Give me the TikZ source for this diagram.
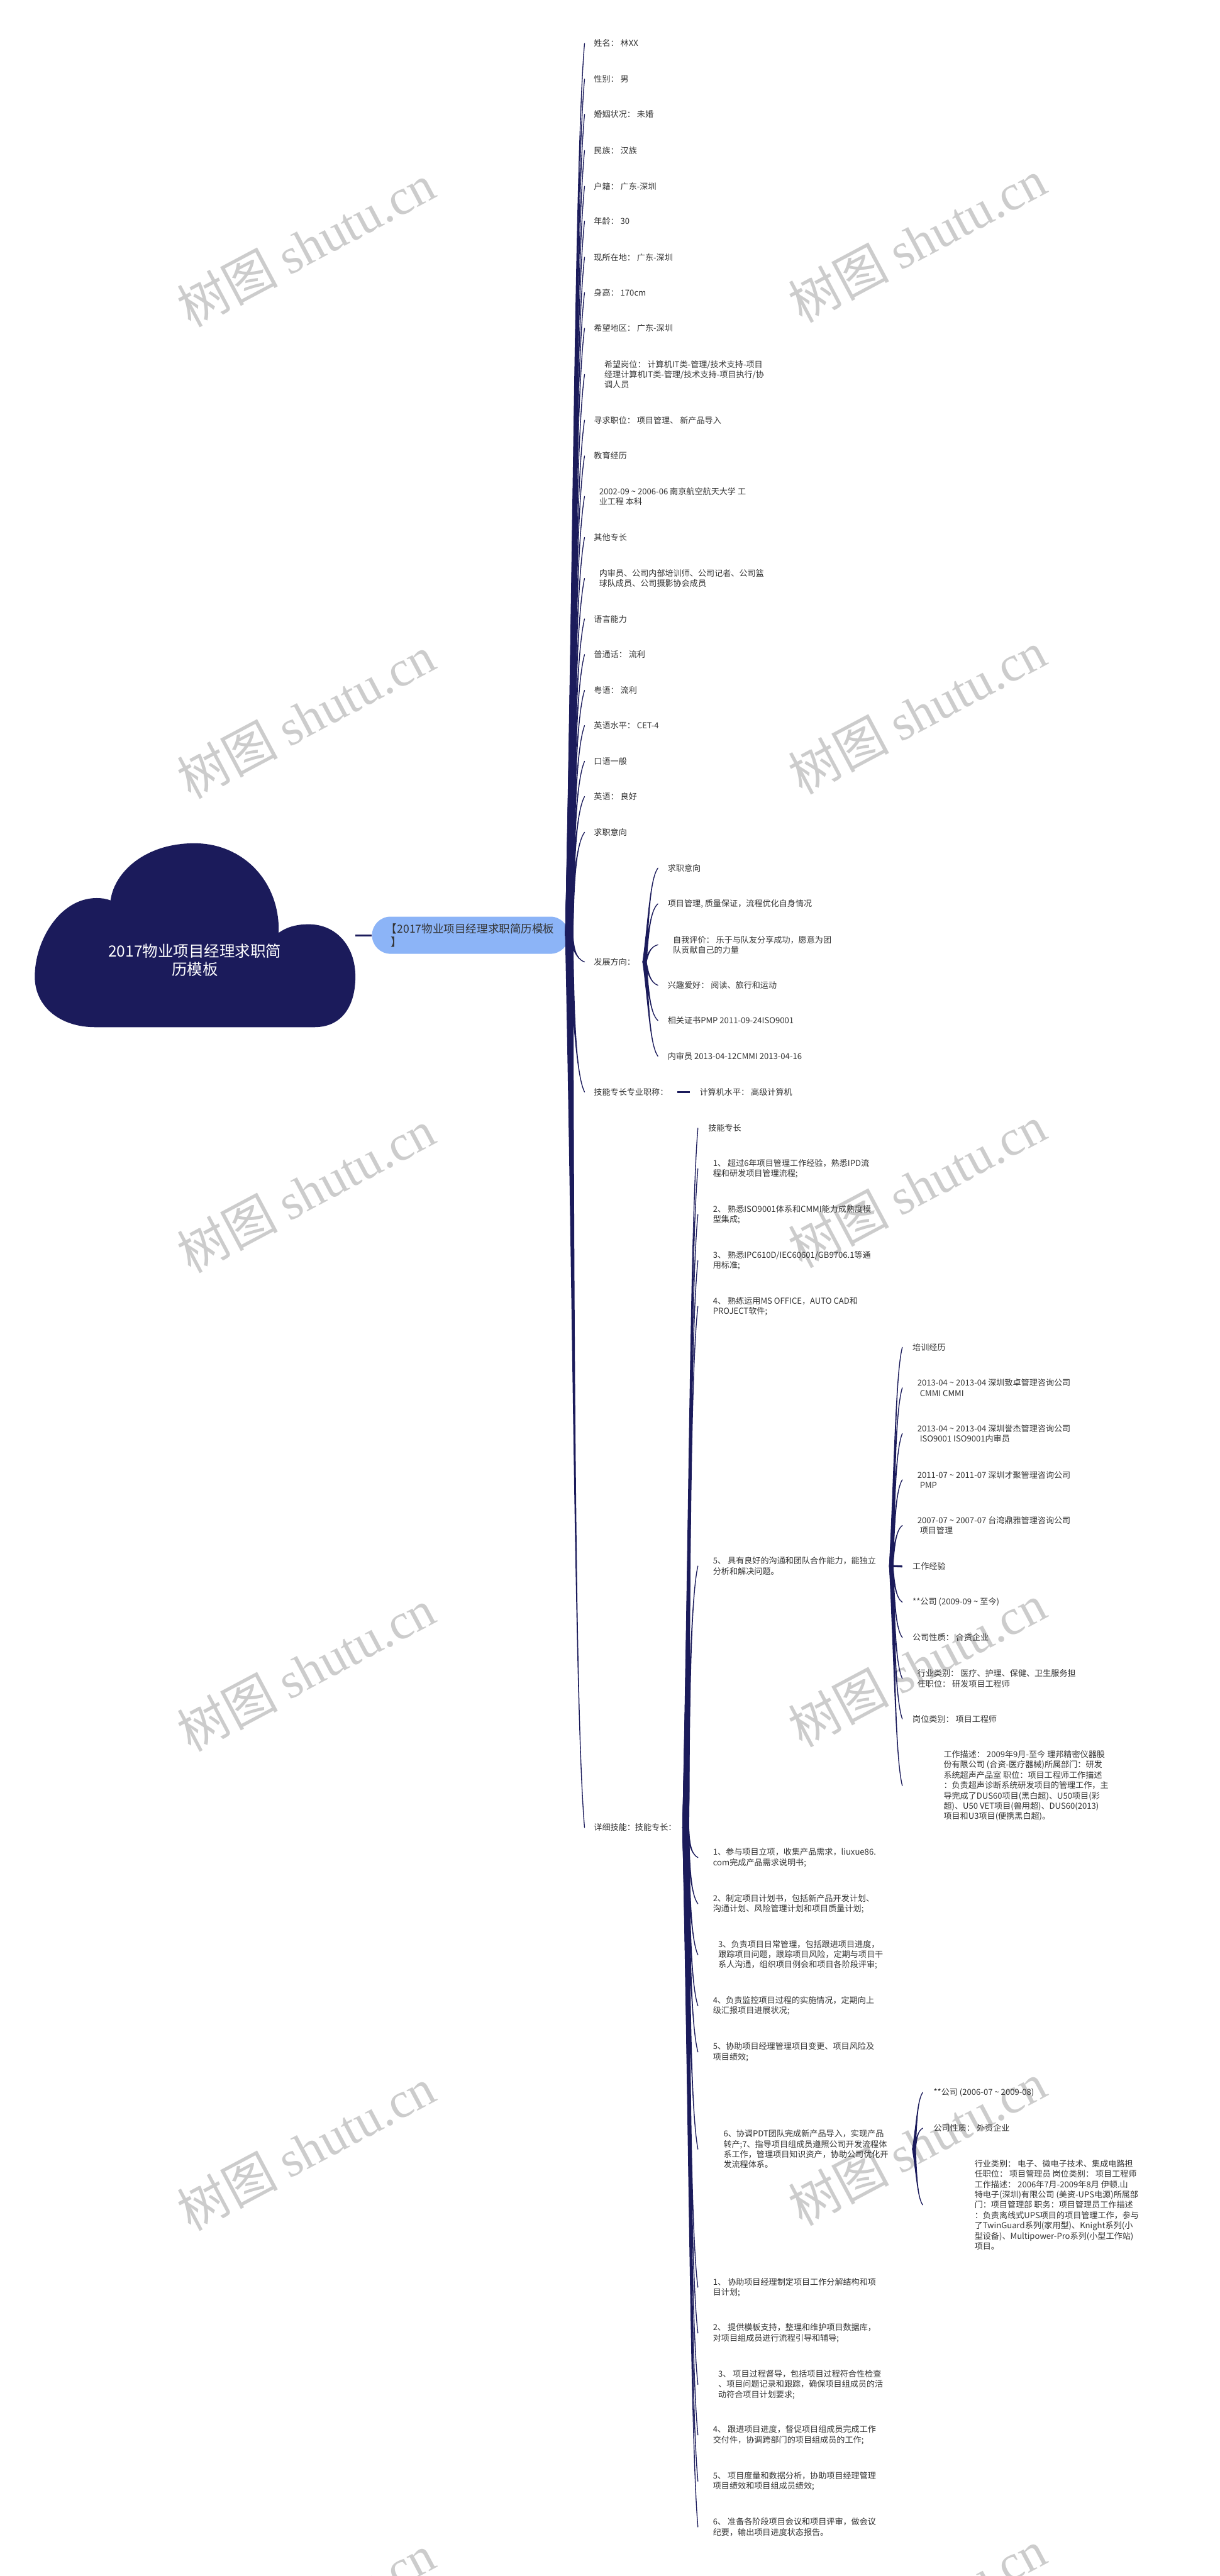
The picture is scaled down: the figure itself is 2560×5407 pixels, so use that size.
\documentclass[tikz,border=0pt]{standalone}
\usepackage{fontspec}
\setmainfont{Noto Sans CJK SC}
\newfontfamily\wmserif{Liberation Serif}
\usetikzlibrary{calc}
\definecolor{navy}{HTML}{1B1B5B}
\definecolor{txtc}{HTML}{333333}
\definecolor{pillblue}{HTML}{8CB4F7}
\definecolor{wmgray}{HTML}{CCCCCC}
\newcommand\tld{\textasciitilde}
\newcommand\twig[3]{%
  \filldraw[twigline] let \p1=(#1), \p2=(#2) in
  ({\x1-#3},\y1) .. controls ({\x1+0.3*(\x2-\x1)},{\y1+0.45*(\y2-\y1)}) and ({\x2-0.6*(\x2-\x1)},{\y2-0.12*(\y2-\y1)}) .. (\x2,\y2)
  .. controls ({\x2-0.6*(\x2-\x1)},{\y2-0.12*(\y2-\y1)}) and ({\x1+0.3*(\x2-\x1)},{\y1+0.45*(\y2-\y1)}) .. ({\x1+#3},\y1) -- cycle;}
\begin{document}
\begin{tikzpicture}[x=0.01cm, y=-0.01cm,
  leaf/.style={anchor=west, inner ysep=0pt, inner xsep=0.19cm, align=left, text=txtc, font=\fontsize{4.92pt}{6.17pt}\selectfont},
  twigline/.style={draw=navy, fill=navy, line width=0.5pt, line join=round},
  stub/.style={draw=navy, line width=1.15pt},
  wm/.style={text=wmgray, rotate=28, font=\fontsize{30pt}{30pt}\selectfont, inner sep=0pt},
  pill/.style={fill=pillblue, rounded corners=0.39cm, minimum width=4.13cm, minimum height=0.78cm, inner xsep=0.4cm, inner ysep=0pt, text width=3.33cm, align=left, text=txtc, font=\fontsize{6.6pt}{8pt}\selectfont},
  titletext/.style={text=white, align=center, font=\fontsize{9.2pt}{11.1pt}\selectfont}
]
\useasboundingbox (0,0) rectangle (2560,5407);
\fill[white] (0,0) rectangle (2560,5407);

% watermarks
\foreach \wx/\wy [count=\i] in {642/515, 1925/505, 642/1505, 1925/1495, 642/2500, 1925/2490, 642/3505, 1925/3495, 642/4510, 1925/4500, 642/5490, 1925/5480}
  \node[wm] (wm\i) at (\wx,\wy) {树图 {\wmserif shutu.cn}};

% cloud
\fill[navy] (200,2156) -- (660,2156)
  .. controls (715,2156) and (746,2115) .. (746,2050)
  .. controls (746,1985) and (705,1940) .. (648,1940)
  .. controls (620,1940) and (600,1947) .. (585,1958)
  .. controls (588,1850) and (510,1770) .. (408,1770)
  .. controls (305,1770) and (240,1830) .. (232,1890)
  .. controls (222,1886) and (212,1885) .. (203,1885)
  .. controls (125,1885) and (73,1975) .. (73,2050)
  .. controls (73,2112) and (125,2156) .. (200,2156) -- cycle;
\node[titletext] (title) at (409,2015) {2017物业项目经理求职简\\历模板};
\coordinate (cloudR) at (746,1963);

% pill node
\node[pill] (blue) at (987.5,1963) {\hspace*{-0.45em}【2017物业项目经理求职简历模板\\】};
\draw[stub] (cloudR) -- (blue.west);

% main leaves
\node[leaf] (a1) at (1227,91) {姓名： 林XX};
\node[leaf] (a2) at (1227,166) {性别： 男};
\node[leaf] (a3) at (1227,240) {婚姻状况： 未婚};
\node[leaf] (a4) at (1227,316) {民族： 汉族};
\node[leaf] (a5) at (1227,391) {户籍： 广东-深圳};
\node[leaf] (a6) at (1227,464) {年龄： 30};
\node[leaf] (a7) at (1227,540) {现所在地： 广东-深圳};
\node[leaf] (a8) at (1227,614) {身高： 170cm};
\node[leaf] (a9) at (1227,689) {希望地区： 广东-深圳};
\node[leaf, inner xsep=0.41cm] (a10) at (1227,786) {希望岗位： 计算机IT类-管理/技术支持-项目\\经理计算机IT类-管理/技术支持-项目执行/协\\调人员};
\node[leaf] (a11) at (1227,882) {寻求职位： 项目管理、 新产品导入};
\node[leaf] (a12) at (1227,957) {教育经历};
\node[leaf, inner xsep=0.30cm] (a13) at (1227,1042) {2002-09 \tld{} 2006-06 南京航空航天大学 工\\业工程 本科};
\node[leaf] (a14) at (1227,1128) {其他专长};
\node[leaf, inner xsep=0.30cm] (a15) at (1227,1214) {内审员、公司内部培训师、公司记者、公司篮\\球队成员、公司摄影协会成员};
\node[leaf] (a16) at (1227,1299) {语言能力};
\node[leaf] (a17) at (1227,1374) {普通话： 流利};
\node[leaf] (a18) at (1227,1449) {粤语： 流利};
\node[leaf] (a19) at (1227,1523) {英语水平： CET-4};
\node[leaf] (a20) at (1227,1598) {口语一般};
\node[leaf] (a21) at (1227,1672) {英语： 良好};
\node[leaf] (a22) at (1227,1747) {求职意向};
\node[leaf] (a23) at (1227,2019) {发展方向：};
\node[leaf] (a24) at (1227,2292) {技能专长专业职称：};
\node[leaf] (a25) at (1227,3836) {详细技能：技能专长：};

\foreach \q in {a1,a2,a3,a4,a5,a6,a7,a8,a9,a10,a11,a12,a13,a14,a15,a16,a17,a18,a19,a20,a21,a22,a23,a24,a25}
  {\twig{blue.east}{\q.west}{2.2pt}}

% development direction
\node[leaf, inner xsep=0.20cm] (b1) at (1381,1822) {求职意向};
\node[leaf, inner xsep=0.20cm] (b2) at (1381,1897) {项目管理, 质量保证，流程优化自身情况};
\node[leaf, inner xsep=0.31cm] (b3) at (1381,1983) {自我评价： 乐于与队友分享成功，愿意为团\\队贡献自己的力量};
\node[leaf, inner xsep=0.20cm] (b4) at (1381,2068) {兴趣爱好： 阅读、旅行和运动};
\node[leaf, inner xsep=0.20cm] (b5) at (1381,2142) {相关证书PMP 2011-09-24ISO9001};
\node[leaf, inner xsep=0.20cm] (b6) at (1381,2217) {内审员 2013-04-12CMMI 2013-04-16};
\foreach \q in {b1,b2,b3,b4,b5,b6}
  {\twig{a23.east}{\q.west}{1pt}}

% computer level
\node[leaf, inner xsep=0.20cm] (c1) at (1448,2292) {计算机水平： 高级计算机};
\draw[stub] (a24.east) -- (c1.west);

% detailed skills
\node[leaf, inner xsep=0.21cm] (d0) at (1465,2368) {技能专长};
\node[leaf, inner xsep=0.31cm] (d1) at (1465,2453) {1、 超过6年项目管理工作经验，熟悉IPD流\\程和研发项目管理流程;};
\node[leaf, inner xsep=0.31cm] (d2) at (1465,2549) {2、 熟悉ISO9001体系和CMMI能力成熟度模\\型集成;};
\node[leaf, inner xsep=0.31cm] (d3) at (1465,2646) {3、 熟悉IPC610D/IEC60601/GB9706.1等通\\用标准;};
\node[leaf, inner xsep=0.31cm] (d4) at (1465,2742) {4、 熟练运用MS OFFICE，AUTO CAD和\\PROJECT软件;};
\node[leaf, inner xsep=0.31cm] (d5) at (1465,3287) {5、 具有良好的沟通和团队合作能力，能独立\\分析和解决问题。};
\node[leaf, inner xsep=0.31cm] (e1) at (1465,3899) {1、参与项目立项，收集产品需求，liuxue86.\\com完成产品需求说明书;};
\node[leaf, inner xsep=0.31cm] (e2) at (1465,3996) {2、制定项目计划书，包括新产品开发计划、\\沟通计划、风险管理计划和项目质量计划;};
\node[leaf, inner xsep=0.42cm] (e3) at (1465,4103) {3、负责项目日常管理，包括跟进项目进度，\\跟踪项目问题，跟踪项目风险，定期与项目干\\系人沟通，组织项目例会和项目各阶段评审;};
\node[leaf, inner xsep=0.31cm] (e4) at (1465,4210) {4、负责监控项目过程的实施情况，定期向上\\级汇报项目进展状况;};
\node[leaf, inner xsep=0.31cm] (e5) at (1465,4307) {5、协助项目经理管理项目变更、项目风险及\\项目绩效;};
\node[leaf, inner xsep=0.53cm] (e6) at (1465,4511) {6、协调PDT团队完成新产品导入，实现产品\\转产;7、指导项目组成员遵照公司开发流程体\\系工作，管理项目知识资产，协助公司优化开\\发流程体系。};
\node[leaf, inner xsep=0.31cm] (f1) at (1465,4801) {1、 协助项目经理制定项目工作分解结构和项\\目计划;};
\node[leaf, inner xsep=0.31cm] (f2) at (1465,4897) {2、 提供模板支持，整理和维护项目数据库，\\对项目组成员进行流程引导和辅导;};
\node[leaf, inner xsep=0.42cm] (f3) at (1465,5005) {3、 项目过程督导，包括项目过程符合性检查\\、项目问题记录和跟踪，确保项目组成员的活\\动符合项目计划要求;};
\node[leaf, inner xsep=0.31cm] (f4) at (1465,5111) {4、 跟进项目进度，督促项目组成员完成工作\\交付件，协调跨部门的项目组成员的工作;};
\node[leaf, inner xsep=0.31cm] (f5) at (1465,5208) {5、 项目度量和数据分析，协助项目经理管理\\项目绩效和项目组成员绩效;};
\node[leaf, inner xsep=0.31cm] (f6) at (1465,5304) {6、 准备各阶段项目会议和项目评审，做会议\\纪要，输出项目进度状态报告。};
\foreach \q in {d0,d1,d2,d3,d4,d5,e1,e2,e3,e4,e5,e6,f1,f2,f3,f4,f5,f6}
  {\twig{a25.east}{\q.west}{1.8pt}}

% training / work experience
\node[leaf, inner xsep=0.21cm] (g1) at (1894,2828) {培训经历};
\node[leaf, inner xsep=0.31cm] (g2) at (1894,2913) {2013-04 \tld{} 2013-04 深圳致卓管理咨询公司\\\hspace{0.3em}CMMI CMMI};
\node[leaf, inner xsep=0.31cm] (g3) at (1894,3009) {2013-04 \tld{} 2013-04 深圳誉杰管理咨询公司\\\hspace{0.3em}ISO9001 ISO9001内审员};
\node[leaf, inner xsep=0.31cm] (g4) at (1894,3106) {2011-07 \tld{} 2011-07 深圳才聚管理咨询公司\\\hspace{0.3em}PMP};
\node[leaf, inner xsep=0.31cm] (g5) at (1894,3202) {2007-07 \tld{} 2007-07 台湾鼎雅管理咨询公司\\\hspace{0.3em}项目管理};
\node[leaf, inner xsep=0.21cm] (g6) at (1894,3288) {工作经验};
\node[leaf, inner xsep=0.21cm] (g7) at (1894,3363) {**公司 (2009-09 \tld{} 至今)};
\node[leaf, inner xsep=0.21cm] (g8) at (1894,3437) {公司性质： 合资企业};
\node[leaf, inner xsep=0.31cm] (g9) at (1894,3523) {行业类别： 医疗、护理、保健、卫生服务担\\任职位： 研发项目工程师};
\node[leaf, inner xsep=0.21cm] (g10) at (1894,3608) {岗位类别： 项目工程师};
\node[leaf, inner xsep=0.86cm] (g11) at (1894,3748) {工作描述： 2009年9月-至今 理邦精密仪器股\\份有限公司 (合资-医疗器械)所属部门：研发\\系统超声产品室 职位：项目工程师工作描述\\：负责超声诊断系统研发项目的管理工作，主\\导完成了DUS60项目(黑白超)、U50项目(彩\\超)、U50 VET项目(兽用超)、DUS60(2013)\\项目和U3项目(便携黑白超)。};
\foreach \q in {g1,g2,g3,g4,g5,g7,g8,g9,g10,g11}
  {\twig{d5.east}{\q.west}{1pt}}
\draw[stub] (d5.east) -- (g6.west);

% second company
\node[leaf, inner xsep=0.22cm] (h1) at (1937,4392) {**公司 (2006-07 \tld{} 2009-08)};
\node[leaf, inner xsep=0.22cm] (h2) at (1937,4467) {公司性质： 外资企业};
\node[leaf, inner xsep=1.08cm] (h3) at (1937,4628) {行业类别： 电子、微电子技术、集成电路担\\任职位： 项目管理员 岗位类别： 项目工程师\\工作描述： 2006年7月-2009年8月 伊顿.山\\特电子(深圳)有限公司 (美资-UPS电源)所属部\\门：项目管理部 职务：项目管理员工作描述\\：负责离线式UPS项目的项目管理工作，参与\\了TwinGuard系列(家用型)、Knight系列(小\\型设备)、Multipower-Pro系列(小型工作站)\\项目。};
\foreach \q in {h1,h2,h3}
  {\twig{e6.east}{\q.west}{0.9pt}}
\end{tikzpicture}
\end{document}
